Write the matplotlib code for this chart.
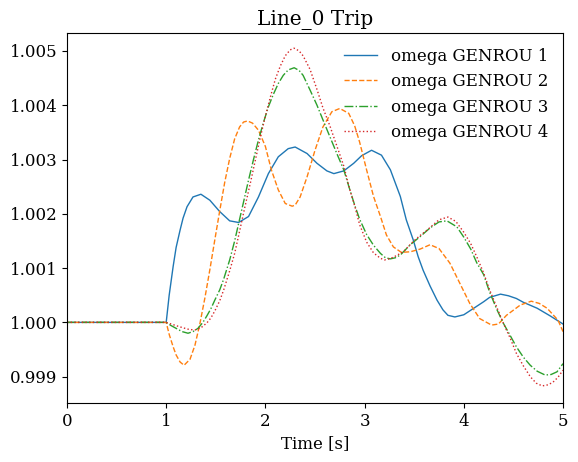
import matplotlib
matplotlib.use("Agg")
import matplotlib.pyplot as plt
from matplotlib.ticker import FormatStrFormatter

plt.rcParams['font.family'] = ['DejaVu Serif']
plt.rcParams['font.size'] = 12

# --- data (time [s], omega [pu]) ---
t1 = [0.0, 1.00, 1.03, 1.07, 1.10, 1.14, 1.17, 1.21, 1.27, 1.35, 1.44, 1.54, 1.64, 1.73, 1.83,
      1.93, 2.03, 2.13, 2.23, 2.30, 2.42, 2.52, 2.62, 2.69, 2.79, 2.89, 2.97, 3.07, 3.17,
      3.26, 3.36, 3.42, 3.49, 3.54, 3.59, 3.66, 3.73, 3.79, 3.84, 3.91, 4.00, 4.10, 4.20,
      4.26, 4.37, 4.45, 4.53, 4.60, 4.74, 4.87, 5.00]
w1 = [1.0, 1.0, 1.00050, 1.00103, 1.00138, 1.00170, 1.00192, 1.00213, 1.00231, 1.00236,
      1.00225, 1.00204, 1.00187, 1.00184, 1.00195, 1.00231, 1.00274, 1.00305, 1.00320,
      1.00323, 1.00311, 1.00293, 1.00279, 1.00274, 1.00279, 1.00293, 1.00307, 1.00317,
      1.00308, 1.00281, 1.00232, 1.00189, 1.00152, 1.00121, 1.00096, 1.00067, 1.00041,
      1.00023, 1.00013, 1.00010, 1.00014, 1.00026, 1.00038, 1.00046, 1.00052, 1.00049,
      1.00044, 1.00037, 1.00026, 1.00012, 0.99997]

t2 = [0.0, 1.00, 1.03, 1.07, 1.10, 1.14, 1.18, 1.24, 1.29, 1.34, 1.39, 1.44, 1.49, 1.54,
      1.59, 1.64, 1.69, 1.74, 1.78, 1.82, 1.87, 1.93, 2.00, 2.06, 2.13, 2.20, 2.27, 2.30,
      2.35, 2.42, 2.50, 2.58, 2.67, 2.75, 2.84, 2.90, 2.95, 3.02, 3.09, 3.16, 3.22, 3.29,
      3.37, 3.46, 3.56, 3.66, 3.75, 3.86, 3.96, 4.06, 4.16, 4.28, 4.35, 4.43, 4.57, 4.68,
      4.76, 4.84, 4.95, 5.00]
w2 = [1.0, 1.0, 0.99978, 0.99955, 0.99940, 0.99927, 0.99921, 0.99932, 0.99958, 0.99998,
      1.00045, 1.00097, 1.00152, 1.00206, 1.00258, 1.00302, 1.00338, 1.00360, 1.00369,
      1.00371, 1.00367, 1.00354, 1.00324, 1.00281, 1.00244, 1.00219, 1.00214, 1.00216,
      1.00231, 1.00268, 1.00317, 1.00360, 1.00388, 1.00394, 1.00385, 1.00362, 1.00332,
      1.00281, 1.00232, 1.00195, 1.00161, 1.00139, 1.00129, 1.00130, 1.00135, 1.00143,
      1.00136, 1.00109, 1.00072, 1.00035, 1.00007, 0.99995, 0.99997, 1.00013, 1.00032,
      1.00039, 1.00035, 1.00026, 1.00004, 0.99983]

t3 = [0.0, 1.00, 1.05, 1.10, 1.16, 1.22, 1.27, 1.32, 1.37, 1.41, 1.45, 1.49, 1.54, 1.58,
      1.64, 1.69, 1.73, 1.78, 1.83, 1.88, 1.93, 1.98, 2.03, 2.08, 2.13, 2.18, 2.23, 2.29,
      2.34, 2.38, 2.45, 2.52, 2.58, 2.65, 2.72, 2.79, 2.85, 2.90, 2.95, 3.02, 3.09, 3.16,
      3.21, 3.26, 3.31, 3.36, 3.46, 3.56, 3.66, 3.75, 3.83, 3.93, 4.00, 4.07, 4.13, 4.20,
      4.26, 4.33, 4.40, 4.47, 4.53, 4.60, 4.67, 4.74, 4.82, 4.88, 4.94, 5.00]
w3 = [1.0, 1.0, 0.99994, 0.99989, 0.99983, 0.99980, 0.99983, 0.99989, 1.00000, 1.00012,
      1.00025, 1.00041, 1.00060, 1.00080, 1.00115, 1.00150, 1.00182, 1.00222, 1.00262,
      1.00300, 1.00336, 1.00368, 1.00397, 1.00420, 1.00440, 1.00455, 1.00465, 1.00469,
      1.00464, 1.00455, 1.00428, 1.00400, 1.00373, 1.00342, 1.00311, 1.00281, 1.00245,
      1.00216, 1.00190, 1.00162, 1.00142, 1.00127, 1.00119, 1.00117, 1.00119, 1.00124,
      1.00143, 1.00158, 1.00174, 1.00185, 1.00187, 1.00176, 1.00157, 1.00135, 1.00110,
      1.00088, 1.00056, 1.00025, 0.99998, 0.99975, 0.99955, 0.99936, 0.99921, 0.99910,
      0.99903, 0.99904, 0.99909, 0.99924]

t4 = [0.0, 1.00, 1.05, 1.10, 1.17, 1.23, 1.29, 1.35, 1.41, 1.45, 1.49, 1.54, 1.58, 1.64,
      1.69, 1.74, 1.79, 1.85, 1.90, 1.95, 2.00, 2.05, 2.10, 2.15, 2.20, 2.25, 2.29, 2.34,
      2.38, 2.45, 2.52, 2.58, 2.65, 2.72, 2.79, 2.85, 2.90, 2.95, 3.02, 3.09, 3.16, 3.20,
      3.25, 3.29, 3.39, 3.49, 3.56, 3.63, 3.75, 3.84, 3.92, 4.00, 4.07, 4.13, 4.20, 4.26,
      4.33, 4.40, 4.47, 4.53, 4.60, 4.67, 4.73, 4.79, 4.85, 4.90, 4.95, 5.00]
w4 = [1.0, 1.0, 0.99997, 0.99994, 0.99990, 0.99987, 0.99986, 0.99990, 0.99999, 1.00008,
      1.00021, 1.00040, 1.00060, 1.00095, 1.00127, 1.00168, 1.00210, 1.00258, 1.00300,
      1.00342, 1.00380, 1.00415, 1.00448, 1.00472, 1.00491, 1.00502, 1.00505, 1.00500,
      1.00491, 1.00466, 1.00429, 1.00395, 1.00362, 1.00325, 1.00288, 1.00245, 1.00215,
      1.00180, 1.00148, 1.00128, 1.00118, 1.00115, 1.00117, 1.00120, 1.00130, 1.00149,
      1.00160, 1.00170, 1.00189, 1.00194, 1.00186, 1.00166, 1.00145, 1.00121, 1.00091,
      1.00060, 1.00029, 0.99998, 0.99970, 0.99943, 0.99920, 0.99900, 0.99888, 0.99883,
      0.99885, 0.99890, 0.99899, 0.99912]

labels = ["omega GENROU 1", "omega GENROU 2", "omega GENROU 3", "omega GENROU 4"]
styles = ["-", "--", "-.", ":"]
colors = ["#1f77b4", "#ff7f0e", "#2ca02c", "#d62728"]

fig = plt.figure(figsize=(5.78, 4.62), dpi=100)
ax = fig.add_axes([67 / 578, 59 / 462, 496 / 578, 370 / 462])

for t, w, lab, ls, c in zip([t1, t2, t3, t4], [w1, w2, w3, w4], labels, styles, colors):
    ax.plot(t, w, ls, color=c, lw=1.0, label=lab)

ax.set_xlim(0, 5)
ax.set_ylim(0.998515, 1.00533)
ax.yaxis.set_major_formatter(FormatStrFormatter('%.3f'))
ax.set_xlabel("Time [s]")
ax.set_title("Line_0 Trip", fontsize=14.4)
ax.legend(loc="upper right", frameon=False)

fig.savefig("out.png", dpi=100)
